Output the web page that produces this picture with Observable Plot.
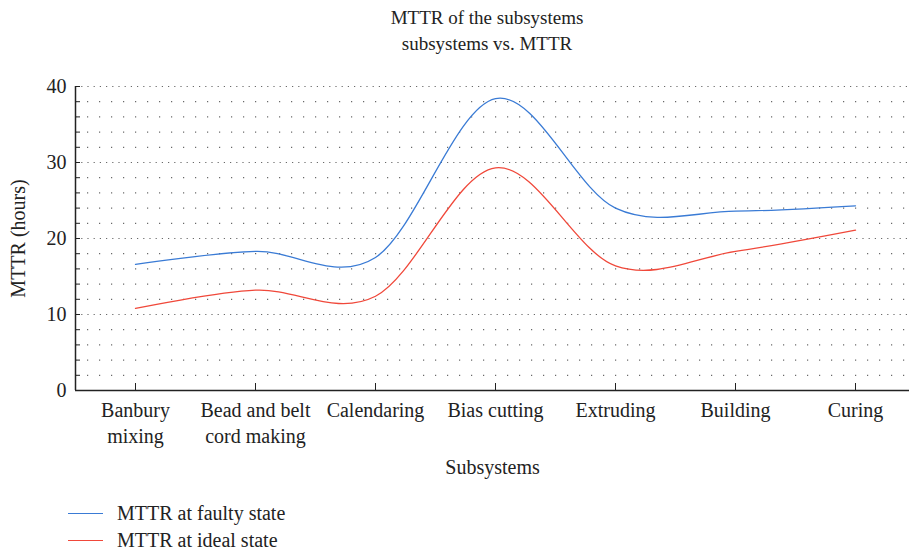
<!DOCTYPE html>
<html>
<head>
<meta charset="utf-8">
<script src="https://cdn.jsdelivr.net/npm/d3@7"></script>
<script src="https://cdn.jsdelivr.net/npm/@observablehq/plot@0.6"></script>
<style>
  body { margin: 0; background: #fff; font-family: "Liberation Serif", "Times New Roman", Tinos, "DejaVu Serif", serif; color: #222; }
  #title { width: 844px; margin-left: 65px; text-align: center; font-size: 19px; line-height: 26px; height: 60px; padding-top: 5px; box-sizing: border-box; }
  #legend { margin-top: 20px; font-size: 20px; }
  .item { display: flex; align-items: center; height: 27px; }
  .swatch { width: 35px; height: 0; border-top: 1.3px solid; margin-left: 68px; margin-right: 14px; }
</style>
</head>
<body>
<div id="title">MTTR of the subsystems<br>subsystems vs. MTTR</div>
<div id="chart"></div>
<div id="legend"></div>
<script>
const categories = ["Banbury\nmixing", "Bead and belt\ncord making", "Calendaring", "Bias cutting", "Extruding", "Building", "Curing"];
const faulty = [16.6, 18.3, 17.5, 38.4, 24.0, 23.6, 24.3];
const ideal = [10.8, 13.2, 12.4, 29.3, 16.4, 18.3, 21.1];
const seriesNames = ["MTTR at faulty state", "MTTR at ideal state"];
const seriesColors = ["#3a7bd5", "#f0483a"];
const majorTicks = [0, 10, 20, 30, 40];
const minorTicks = d3.range(0, 41, 2);

const data = [];
categories.forEach((c, i) => {
  data.push({i, value: faulty[i], series: seriesNames[0]});
  data.push({i, value: ideal[i], series: seriesNames[1]});
});

const font = "'Liberation Serif', 'Times New Roman', Tinos, 'DejaVu Serif', serif";
const chart = Plot.plot({
  width: 909,
  height: 420,
  marginLeft: 75,
  marginRight: 0,
  marginTop: 26,
  marginBottom: 90,
  style: {fontFamily: font, fontSize: "20px", color: "#222", background: "white", overflow: "visible"},
  x: {domain: [-0.5, 6.45]},
  y: {domain: [0, 40]},
  color: {domain: seriesNames, range: seriesColors},
  marks: [
    Plot.ruleY(minorTicks.filter(d => d % 10 !== 0), {stroke: "#444", strokeWidth: 1.2, strokeDasharray: "1.2,10.8", strokeOpacity: 0.8}),
    Plot.ruleY(majorTicks, {stroke: "#444", strokeWidth: 1.2, strokeDasharray: "1.2,5", strokeOpacity: 0.8}),
    Plot.lineY(data, {x: "i", y: "value", stroke: "series", curve: "cardinal", tension: 0, strokeWidth: 1.3}),
    Plot.axisY({ticks: minorTicks, tickSize: -5, tickPadding: 14, tickFormat: d => d % 10 === 0 ? d : "", label: "MTTR (hours)", labelAnchor: "center", labelArrow: "none", labelOffset: 65, fontSize: 20, fontFamily: font}),
    Plot.axisX({ticks: d3.range(0, 7), tickSize: -7, tickPadding: 15, tickFormat: i => categories[i], lineHeight: 1.3, label: "Subsystems", labelAnchor: "center", labelArrow: "none", labelOffset: 83, fontSize: 20, fontFamily: font}),
    Plot.ruleX([-0.5], {stroke: "#222", strokeWidth: 1.5}),
    Plot.ruleY([0], {stroke: "#222", strokeWidth: 1.5})
  ]
});
document.getElementById("chart").appendChild(chart);

const legend = document.getElementById("legend");
seriesNames.forEach((n, k) => {
  const it = document.createElement("div");
  it.className = "item";
  it.innerHTML = `<span class="swatch" style="border-color:${seriesColors[k]}"></span><span>${n}</span>`;
  legend.appendChild(it);
});
</script>
</body>
</html>
